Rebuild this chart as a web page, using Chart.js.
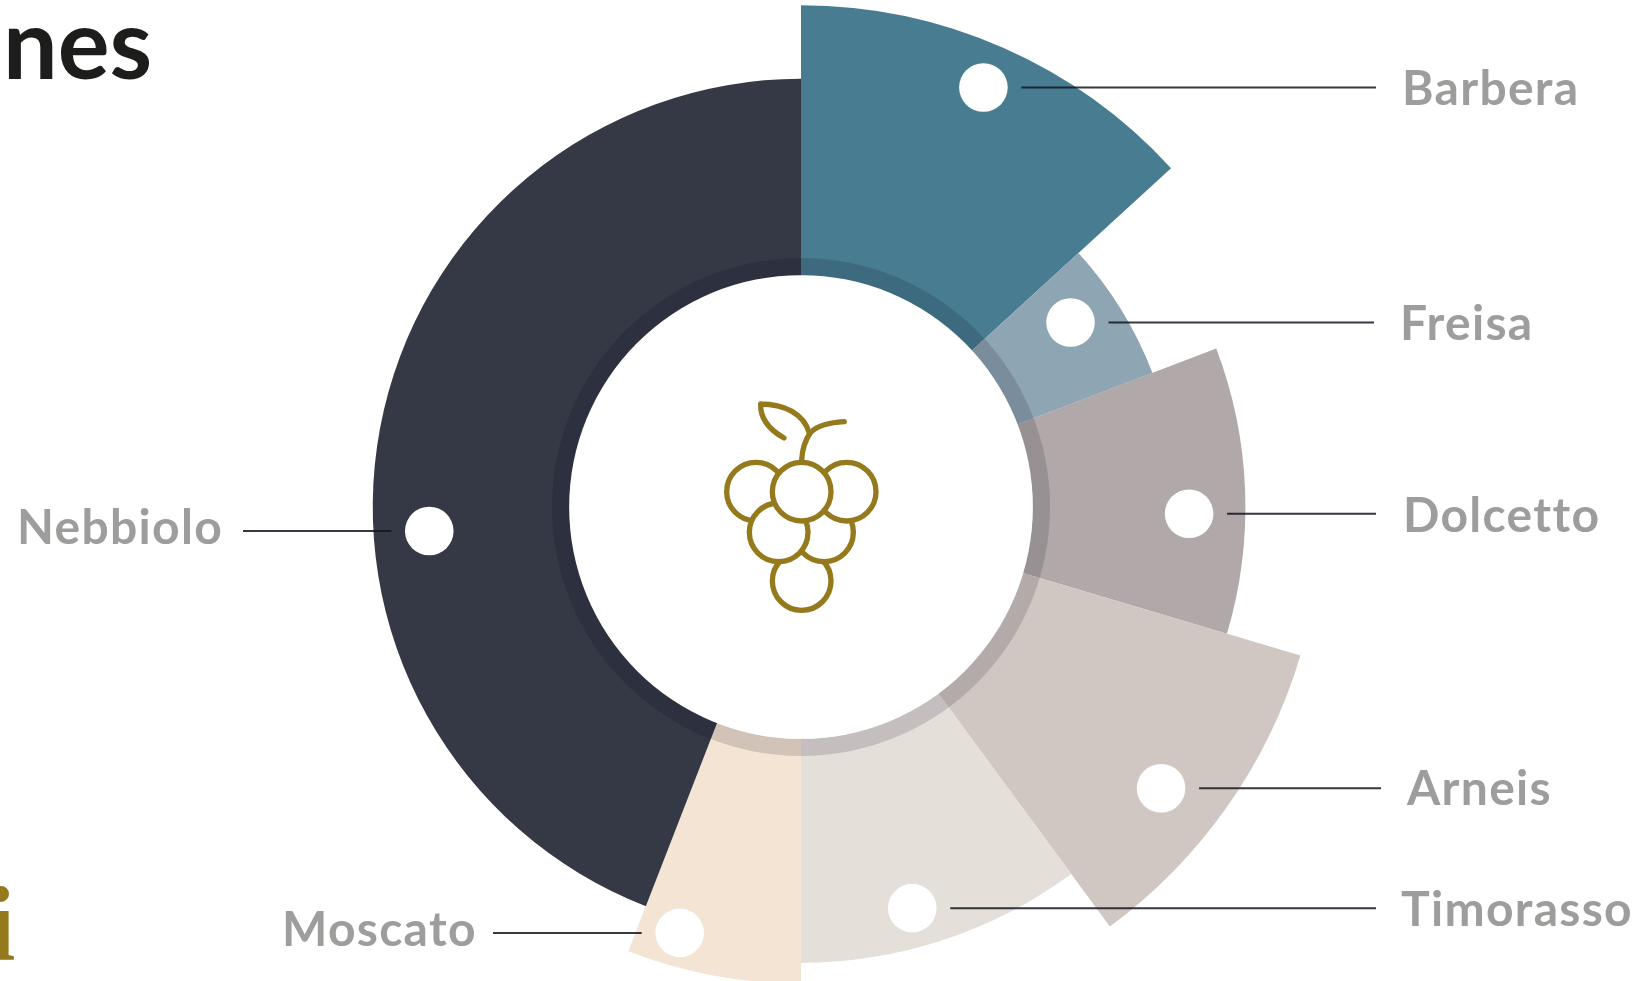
<!DOCTYPE html>
<html>
<head>
<meta charset="utf-8">
<title>Vitigni</title>
<script src="https://cdn.jsdelivr.net/npm/chart.js@4/dist/chart.umd.js"></script>
<style>
  html, body { margin: 0; height: 100%; background: #fff; overflow: hidden; }
  #grapes { position: absolute; left: 0; top: -14px; }
  #bunch { position: absolute; left: 680px; top: 380px; width: 240px; height: 240px; }
</style>
</head>
<body>
<canvas id="grapes" width="1646" height="1042"></canvas>

<!-- bunch of grapes, painted back to front so each berry hides the one behind -->
<svg id="bunch" viewBox="0 0 720 720" fill="#fff" stroke="#947a1d" stroke-width="16" stroke-linecap="round">
  <circle cx="365" cy="603" r="88"/>
  <circle cx="432" cy="457" r="88"/>
  <circle cx="228" cy="335" r="88"/>
  <circle cx="500" cy="335" r="88"/>
  <circle cx="296" cy="457" r="88"/>
  <circle cx="365" cy="335" r="88"/>
  <path fill="none" d="M365 240C367 205 375 180 392 157C415 135 450 127 493 125"/>
  <path fill="none" d="M242 72C310 72 372 100 388 160M242 72C240 115 270 150 312 174"/>
</svg>

<script>
  const varieties = ["Barbera", "Freisa", "Dolcetto", "Arneis", "Timorasso", "Moscato", "Nebbiolo"];
  const shares = [13.2, 6.0, 10.4, 10.3, 10.1, 5.9, 44.1];
  const reach = [96.3, 72.2, 85.3, 100, 87.5, 91.5, 82.2];
  const colors = ["#487c90", "#8ea5b3", "#b1a9a9", "#d1c7c2", "#e5dfda", "#f4e4d3", "#353945"];

  // where each white dot sits: degrees clockwise from north, and distance on the r scale
  const dotAngles = [23.5, 55.6, 91.0, 128.0, 164.5, 195.9, 266.3];
  const dotReach = [87.8, 62.7, 74.5, 87.7, 79.9, 85.0, 71.5];

  const leaderEnds = [1376, 1374, 1376, 1381, 1376, 493, 243];
  const labelLefts = [1402, 1400, 1403, 1407, 1401, 282, 17];
  const labelDrops = [17, 18, 18, 17, 18, 13, 13];

  const holeValue = 44.5;
  const ringValue = 47.8;
  const dotRadius = 24.3;
  const canvasTop = 14;

  const calloutsPlugin = {
    id: "callouts",
    afterDatasetsDraw(chart) {
      const { ctx } = chart;
      const scale = chart.scales.r;
      const cx = scale.xCenter;
      const cy = scale.yCenter;

      // darker band around the hole, then the hole itself
      const holeR = scale.getDistanceFromCenterForValue(holeValue);
      const ringR = scale.getDistanceFromCenterForValue(ringValue);
      ctx.save();
      ctx.fillStyle = "rgba(0, 0, 20, 0.14)";
      ctx.beginPath();
      ctx.arc(cx, cy, ringR, 0, Math.PI * 2);
      ctx.arc(cx, cy, holeR, 0, Math.PI * 2, true);
      ctx.fill();
      ctx.fillStyle = "#fff";
      ctx.beginPath();
      ctx.arc(cx, cy, holeR, 0, Math.PI * 2);
      ctx.fill();

      ctx.font = "700 48px Lato";
      ctx.letterSpacing = "1.3px";
      ctx.textBaseline = "alphabetic";

      varieties.forEach((name, i) => {
        const a = (dotAngles[i] * Math.PI) / 180;
        const dist = scale.getDistanceFromCenterForValue(dotReach[i]);
        const x = cx + Math.sin(a) * dist;
        const y = cy - Math.cos(a) * dist;

        ctx.fillStyle = "#fff";
        ctx.beginPath();
        ctx.arc(x, y, dotRadius, 0, Math.PI * 2);
        ctx.fill();

        const side = leaderEnds[i] > x ? 1 : -1;
        ctx.strokeStyle = "rgba(20, 21, 32, 0.85)";
        ctx.lineWidth = 2;
        ctx.beginPath();
        ctx.moveTo(x + side * 38, y);
        ctx.lineTo(leaderEnds[i], y);
        ctx.stroke();

        ctx.fillStyle = "#9d9d9c";
        ctx.fillText(name, labelLefts[i], y + labelDrops[i]);
      });

      // ends of the heading and the logotype, cut off by the page edge
      ctx.letterSpacing = "0px";
      ctx.fillStyle = "#1d1d1b";
      ctx.font = "700 97px Lato";
      ctx.fillText("nes", 3, 79 + canvasTop);
      ctx.fillStyle = "#947a1d";
      ctx.font = "700 106px 'Liberation Serif'";
      ctx.fillText("i", -14, 960 + canvasTop);
      ctx.restore();
    },
  };

  new Chart(document.getElementById("grapes"), {
    type: "polarArea",
    data: {
      labels: varieties,
      datasets: [
        {
          data: reach,
          angle: shares.map((s) => s * 3.6),
          backgroundColor: colors,
          borderWidth: 0,
        },
      ],
    },
    options: {
      responsive: false,
      animation: false,
      events: [],
      layout: { padding: { right: 44 } },
      scales: {
        r: {
          min: 0,
          max: 100,
          display: false,
          ticks: { display: false },
        },
      },
      plugins: {
        legend: { display: false },
        tooltip: { enabled: false },
      },
    },
    plugins: [calloutsPlugin],
  });
</script>
</body>
</html>
